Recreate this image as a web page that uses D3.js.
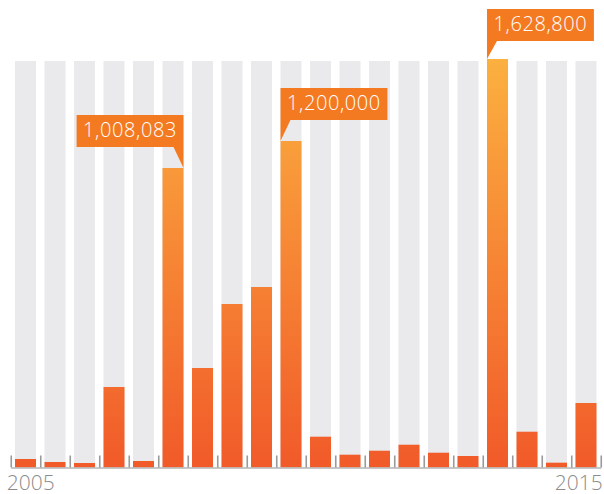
<!DOCTYPE html>
<html>

<head>
    <meta charset="utf-8">
    <style>
        body {
            margin: 0;
            background: #fff;
        }

        svg {
            display: block;
            font-family: 'Open Sans', Lato, sans-serif;
        }

        .year {
            fill: #8c8c8c;
            font-size: 21px;
            font-weight: 300;
        }

        .callout text {
            fill: #fff;
            font-size: 20px;
            font-weight: 300;
            letter-spacing: 0.6px;
        }
    </style>
</head>

<body>
    <svg width="604" height="494"></svg>
</body>

<script src="https://d3js.org/d3.v7.min.js"></script>

<script>
    // half-year periods, 2005 -> 2014
    let periods = ["2005 H1", "2005 H2", "2006 H1", "2006 H2", "2007 H1", "2007 H2", "2008 H1", "2008 H2",
        "2009 H1", "2009 H2", "2010 H1", "2010 H2", "2011 H1", "2011 H2", "2012 H1", "2012 H2",
        "2013 H1", "2013 H2", "2014 H1", "2014 H2"]

    let values = [28600, 18500, 15100, 271000, 21900, 1008083, 334900, 550300,
        607500, 1200000, 103700, 43100, 56500, 76700, 49800, 38700,
        1628800, 120500, 16200, 217100]

    let yearLabels = ["2005", "2015"]

    // which bars get a label box, and which side the pointer sits on
    let calloutPeriods = ["2007 H2", "2009 H2", "2013 H1"]
    let calloutSides = ["right", "left", "left"]

    let width = 604
    let height = 494
    let baseline = 467.5
    let trackTop = 61

    let svg = d3.select("svg")

    let x = d3.scaleBand()
        .domain(periods)
        .range([15, 596.5])
        .paddingInner(0.288)
        .paddingOuter(0)

    // bar heights in the original are not strictly proportional to the labels,
    // so the scale is pinned at the labelled values
    let y = d3.scaleLinear()
        .domain([0, 1008083, 1200000, 1628800])
        .range([baseline, 168, 141, 59])

    let gap = x.step() - x.bandwidth()
    let edges = d3.scaleLinear()
        .domain([0, periods.length])
        .range([x.range()[0] - gap / 2, x.range()[0] - gap / 2 + periods.length * x.step()])

    let defs = svg.append("defs")
    let grad = defs.append("linearGradient")
        .attr("id", "barGrad")
        .attr("gradientUnits", "userSpaceOnUse")
        .attr("x1", 0).attr("x2", 0)
        .attr("y1", y(d3.max(values)))
        .attr("y2", baseline)
    grad.append("stop").attr("offset", 0).attr("stop-color", "#fbb040")
    grad.append("stop").attr("offset", 1).attr("stop-color", "#f15a29")

    // grey tracks
    svg.append("g")
        .selectAll("rect")
        .data(periods)
        .join("rect")
        .attr("x", d => x(d))
        .attr("y", trackTop)
        .attr("width", x.bandwidth())
        .attr("height", baseline - trackTop)
        .attr("fill", "#eaeaec")

    // bars
    svg.append("g")
        .selectAll("rect")
        .data(values)
        .join("rect")
        .attr("x", (d, i) => x(periods[i]))
        .attr("y", d => y(d))
        .attr("width", x.bandwidth())
        .attr("height", d => baseline - y(d))
        .attr("fill", "url(#barGrad)")

    // axis with small upward ticks between bars
    let axis = svg.append("g")
        .attr("transform", `translate(0,${baseline})`)
        .call(d3.axisBottom(edges)
            .ticks(periods.length)
            .tickSizeInner(-12)
            .tickSizeOuter(0)
            .tickFormat(""))
    axis.select(".domain")
        .attr("stroke", "#b4b4b4")
        .attr("stroke-width", 1.6)
    axis.selectAll(".tick line")
        .attr("stroke", "#9a9a9a")
        .attr("stroke-width", 1.6)

    svg.append("text")
        .attr("class", "year")
        .attr("x", edges(0) - 4)
        .attr("y", 490)
        .attr("text-anchor", "start")
        .text(yearLabels[0])

    svg.append("text")
        .attr("class", "year")
        .attr("x", edges(periods.length) + 2)
        .attr("y", 490)
        .attr("text-anchor", "end")
        .text(yearLabels[1])

    // callouts
    let fmt = d3.format(",")
    let boxH = 32
    let padX = 6.5
    let tri = 10

    calloutPeriods.forEach(function (p, k) {
        let i = periods.indexOf(p)
        let v = values[i]
        let side = calloutSides[k]
        let g = svg.append("g").attr("class", "callout")

        let label = g.append("text")
            .attr("text-anchor", "middle")
            .attr("dy", "0.35em")
            .text(fmt(v))
        let tw = label.node().getComputedTextLength()
        let boxW = tw + padX * 2

        let top = y(v)
        let boxBottom = Math.max(top - 21, 9 + boxH)
        let boxTop = boxBottom - boxH
        let tipX = side == "right" ? x(p) + x.bandwidth() : x(p)
        let boxLeft = side == "right" ? tipX - boxW : tipX

        g.insert("rect", "text")
            .attr("x", boxLeft)
            .attr("y", boxTop)
            .attr("width", boxW)
            .attr("height", boxH)
            .attr("fill", "#f47a22")

        let pts = side == "right"
            ? [[tipX - tri, boxBottom], [tipX, boxBottom], [tipX, top]]
            : [[tipX, boxBottom], [tipX + tri, boxBottom], [tipX, top]]
        g.insert("path", "text")
            .attr("d", "M" + pts.join("L") + "Z")
            .attr("fill", "#f47a22")

        label
            .attr("x", boxLeft + boxW / 2)
            .attr("y", boxTop + boxH / 2 - 1)
    })
</script>

</html>
